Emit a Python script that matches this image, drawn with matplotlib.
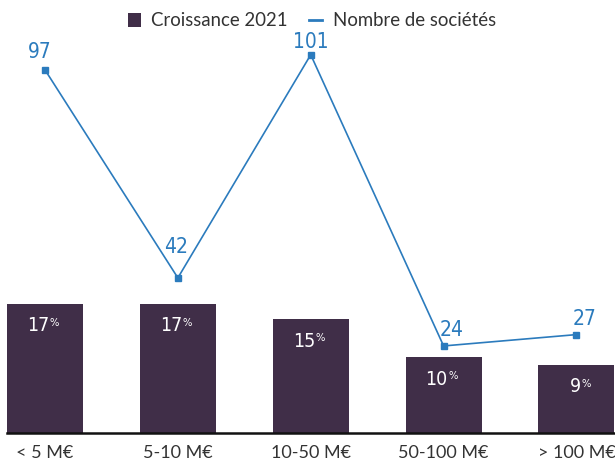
import matplotlib
matplotlib.use("Agg")
import matplotlib.pyplot as plt
from matplotlib.lines import Line2D
from matplotlib.patches import Patch
from matplotlib import font_manager

categories = ["< 5 M€", "5-10 M€", "10-50 M€", "50-100 M€", "> 100 M€"]
croissance = [17, 17, 15, 10, 9]
societes = [97, 42, 101, 24, 27]

bar_color = "#402e48"
line_color = "#2b7bbd"
text_color = "#333333"

avail = {f.name for f in font_manager.fontManager.ttflist}
main_font = "Lato" if "Lato" in avail else "DejaVu Sans"
narrow = dict(family="DejaVu Sans", stretch="condensed")

fig = plt.figure(figsize=(6.15, 4.63), dpi=100)
ax = fig.add_axes([7/615, 30/463, 608/615, 393/463])
x = list(range(len(categories)))
w = 0.572
ax.bar(x, croissance, width=w, color=bar_color, zorder=2)
ax.set_xlim(-w/2, 4.29)
ax.set_ylim(0, 51.7)

ax2 = ax.twinx()
ax2.plot(x, societes, color=line_color, lw=1.2, marker="s", ms=4.5, zorder=3)
ax2.set_ylim(0.98, 104.9)

for a in (ax, ax2):
    for s in a.spines.values():
        s.set_visible(False)
    a.set_yticks([])
ax.spines["bottom"].set_visible(True)
ax.spines["bottom"].set_color("#111111")
ax.spines["bottom"].set_linewidth(1.8)
ax.set_xticks(x)
ax.set_xticklabels(categories, fontsize=13, color=text_color, family=main_font)
ax.tick_params(axis="x", length=0, pad=9)

# bar labels
for xi, v in zip(x, croissance):
    ax.annotate(f"{v}", (xi, v), xytext=(3, -16), textcoords="offset points",
                ha="right", va="center", color="white", fontsize=14, **narrow)
    ax.annotate("%", (xi, v), xytext=(3.3, -14), textcoords="offset points",
                ha="left", va="center", color="white", fontsize=8, **narrow)

# line labels
offsets = [(-3.6, 13), (-1.5, 22), (0, 9.5), (5.8, 11.5), (5.8, 11.5)]
for xi, v, off in zip(x, societes, offsets):
    ax2.annotate(f"{v}", (xi, v), xytext=off, textcoords="offset points",
                 ha="center", va="center", color=line_color, fontsize=15, **narrow)

handles = [Patch(facecolor=bar_color, edgecolor="none"),
           Line2D([0], [0], color=line_color, lw=2)]
leg = fig.legend(handles, ["Croissance 2021", "Nombre de sociétés"], loc="center",
                 bbox_to_anchor=(312/615, 1 - 21/463), ncol=2, frameon=False,
                 handlelength=0.7, handleheight=0.7, handletextpad=0.55,
                 columnspacing=1.15, prop={"family": main_font, "size": 13.4})
for t in leg.get_texts():
    t.set_color(text_color)

fig.savefig("out.png", dpi=100)
